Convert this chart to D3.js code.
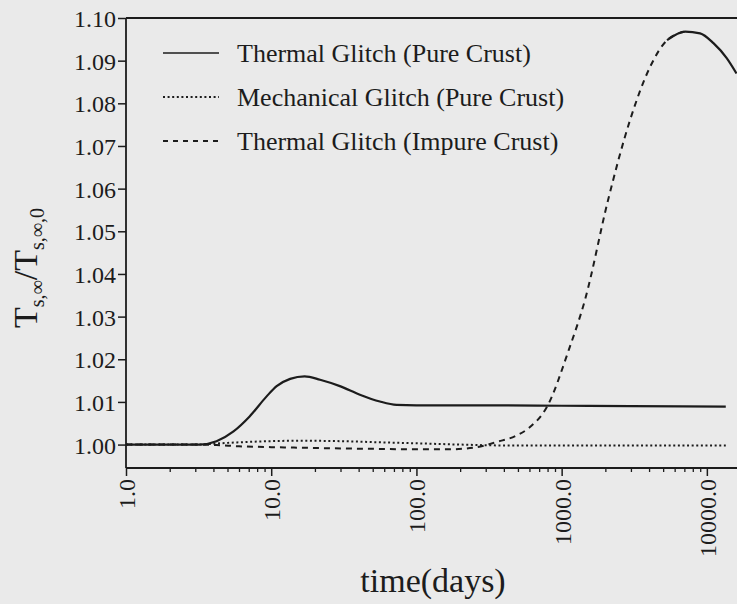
<!DOCTYPE html>
<html>
<head>
<meta charset="utf-8">
<script src="https://cdn.jsdelivr.net/npm/d3@7"></script>
<style>
  html, body { margin: 0; padding: 0; background: #eaeaea; }
  svg { display: block; }
  text { font-family: "Liberation Serif", "DejaVu Serif", serif; fill: #1c1c1c; }
</style>
</head>
<body>
<svg id="chart" width="737" height="604"></svg>
<script>
// ---- data (time in days, ratio T_s,inf / T_s,inf,0) ----
const seriesNames = ["Thermal Glitch (Pure Crust)", "Mechanical Glitch (Pure Crust)", "Thermal Glitch (Impure Crust)"];

const thermalPureT = [1, 2, 3.2, 4.2, 5.5, 7.1, 9.3, 10.9, 13.5, 17, 21.7, 29.7, 40.8, 56, 73, 100, 300, 1000, 3000, 13500];
const thermalPureV = [1.0000, 1.0000, 1.0000, 1.0008, 1.0031, 1.0066, 1.0113, 1.0137, 1.0154, 1.0160, 1.0152, 1.0137, 1.0117, 1.0101, 1.0093, 1.0092, 1.0092, 1.0091, 1.0090, 1.0089];

const mechPureT = [1, 3, 5, 8, 15, 30, 60, 100, 200, 400, 1000, 13500];
const mechPureV = [1.0000, 1.0000, 1.0004, 1.0007, 1.0009, 1.0008, 1.0005, 1.0003, 1.0000, 0.9998, 0.9998, 0.9998];

const thermalImpureT = [1, 3, 4.2, 6, 10, 20, 50, 100, 170, 250, 364, 480, 600, 794, 1120, 1450, 2090, 2960, 4060, 5320, 7080, 8980, 11100, 13700, 16000];
const thermalImpureV = [1.0000, 1.0000, 0.9999, 0.9996, 0.9994, 0.9992, 0.9990, 0.9989, 0.9989, 0.9993, 1.0007, 1.0020, 1.0040, 1.0089, 1.0222, 1.0340, 1.0574, 1.0761, 1.0885, 1.0948, 1.0968, 1.0964, 1.0941, 1.0906, 1.0870];

const xTickValues = [1, 10, 100, 1000, 10000];
const xTickLabels = ["1.0", "10.0", "100.0", "1000.0", "10000.0"];
const yTickValues = [1.00, 1.01, 1.02, 1.03, 1.04, 1.05, 1.06, 1.07, 1.08, 1.09, 1.10];

// ---- layout ----
const svg = d3.select("#chart");
const W = 737, H = 604;
const pLeft = 126, pTop = 18, pBottom = 468, pRight = 737;

const x = d3.scaleLog().domain([1, 16000]).range([pLeft, 736.5]);
const y = d3.scaleLinear().domain([0.99451, 1.10]).range([pBottom, pTop]);

svg.append("rect").attr("width", W).attr("height", H).attr("fill", "#eaeaea");

svg.append("defs").append("clipPath").attr("id", "plot")
  .append("rect").attr("x", pLeft).attr("y", pTop - 2).attr("width", pRight - pLeft).attr("height", pBottom - pTop + 2);

// top frame line
svg.append("line").attr("x1", pLeft).attr("x2", pRight).attr("y1", y(1.10)).attr("y2", y(1.10))
  .attr("stroke", "#1c1c1c").attr("stroke-width", 1.8);

// y axis
const yAxis = svg.append("g").attr("transform", `translate(${pLeft},0)`)
  .call(d3.axisLeft(y).tickValues(yTickValues).tickSize(8).tickPadding(2).tickFormat(d3.format(".2f")));
yAxis.select(".domain").attr("d", `M0,${pTop}V${pBottom}`).attr("stroke", "#1c1c1c").attr("stroke-width", 1.8);
yAxis.selectAll(".tick line").attr("stroke", "#1c1c1c").attr("stroke-width", 1.5);
yAxis.selectAll(".tick text").style("font-size", "24px").style("font-family", "Liberation Serif").attr("fill", "#1c1c1c").attr("dy", "0.36em");

// x axis minor ticks
const minorTicks = [];
for (let d = 1; d <= 10000; d *= 10) for (let k = 2; k <= 9; k++) if (d * k <= 16000) minorTicks.push(d * k);
const xMinor = svg.append("g").attr("transform", `translate(0,${pBottom})`)
  .call(d3.axisBottom(x).tickValues(minorTicks).tickSize(4).tickFormat(""));
xMinor.select(".domain").remove();
xMinor.selectAll(".tick line").attr("stroke", "#1c1c1c").attr("stroke-width", 1.3);

// x axis major
const xAxis = svg.append("g").attr("transform", `translate(0,${pBottom})`)
  .call(d3.axisBottom(x).tickValues(xTickValues).tickSize(8).tickFormat((d, i) => xTickLabels[i]));
xAxis.select(".domain").attr("d", `M${pLeft},0H${pRight}`).attr("stroke", "#1c1c1c").attr("stroke-width", 1.8);
xAxis.selectAll(".tick line").attr("stroke", "#1c1c1c").attr("stroke-width", 1.5);
xAxis.selectAll(".tick text")
  .style("font-size", "24px").style("font-family", "Liberation Serif").attr("fill", "#1c1c1c")
  .attr("transform", "rotate(-90)").attr("x", -11).attr("y", 0).attr("dy", "0.35em")
  .attr("text-anchor", "end");

// lines
const line = d3.line().x(d => x(d[0])).y(d => y(d[1])).curve(d3.curveMonotoneX);
const zip = (a, b) => a.map((t, i) => [t, b[i]]);
const plot = svg.append("g").attr("clip-path", "url(#plot)");

plot.append("path").datum(zip(thermalPureT, thermalPureV)).attr("d", line)
  .attr("fill", "none").attr("stroke", "#1c1c1c").attr("stroke-width", 2.2);

plot.append("path").datum(zip(mechPureT, mechPureV)).attr("d", line)
  .attr("fill", "none").attr("stroke", "#1c1c1c").attr("stroke-width", 2).attr("stroke-dasharray", "2,2.6");

const impure = zip(thermalImpureT, thermalImpureV);
const peakIdx = thermalImpureV.indexOf(d3.max(thermalImpureV));
plot.append("path").datum(impure.slice(0, peakIdx + 1)).attr("d", line)
  .attr("fill", "none").attr("stroke", "#1c1c1c").attr("stroke-width", 2).attr("stroke-dasharray", "6,5");
plot.append("path").datum(impure.slice(peakIdx - 1)).attr("d", line)
  .attr("fill", "none").attr("stroke", "#1c1c1c").attr("stroke-width", 2.2);

// legend
const legend = svg.append("g");
const dashes = [null, "2,2.6", "5,5"];
const rowsY = [53, 97, 141];
seriesNames.forEach((name, i) => {
  legend.append("line").attr("x1", 163).attr("x2", 219).attr("y1", rowsY[i]).attr("y2", rowsY[i])
    .attr("stroke", "#1c1c1c").attr("stroke-width", i === 0 ? 1.6 : 1.8)
    .attr("stroke-dasharray", dashes[i]);
  legend.append("text").attr("x", 237).attr("y", rowsY[i]).attr("dy", "0.34em")
    .style("font-size", "26px").text(name);
});

// axis titles
svg.append("text").attr("x", 433).attr("y", 592).attr("text-anchor", "middle")
  .style("font-size", "34px").text("time(days)");

const yl = svg.append("text").attr("transform", "translate(37,268) rotate(-90)").attr("text-anchor", "middle")
  .style("font-size", "34px");
yl.append("tspan").text("T");
yl.append("tspan").attr("dy", 7).style("font-size", "20px").text("s,∞");
yl.append("tspan").attr("dy", -7).text("/T");
yl.append("tspan").attr("dy", 7).style("font-size", "20px").text("s,∞,0");
</script>
</body>
</html>
